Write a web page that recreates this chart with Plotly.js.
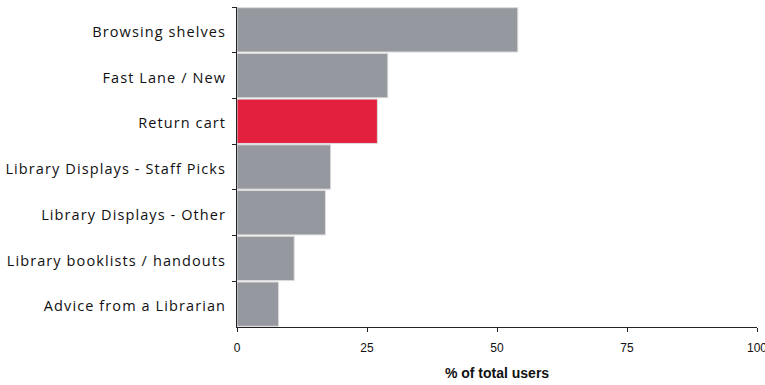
<!DOCTYPE html>
<html>
<head>
<meta charset="utf-8">
<script src="https://cdn.plot.ly/plotly-3.0.1.min.js"></script>
<style>html,body{margin:0;padding:0;background:#fff;}#chart{width:765px;height:385px;}
#chart .ytick text{letter-spacing:1.1px;}</style>
</head>
<body>
<div id="chart"></div>
<script>
const categories = ["Browsing shelves", "Fast Lane / New", "Return cart", "Library Displays - Staff Picks", "Library Displays - Other", "Library booklists / handouts", "Advice from a Librarian"];
const percentUsers = [54, 29, 27, 18, 17, 11, 8];
const highlighted = "Return cart";
const xTicks = [0, 25, 50, 75, 100];

const colors = categories.map(c => c === highlighted ? "#e3203d" : "#96989f");

Plotly.newPlot("chart", [{
  type: "bar",
  orientation: "h",
  y: categories,
  x: percentUsers,
  marker: { color: colors, line: { color: "#dcdcdc", width: 1 } },
  hoverinfo: "none"
}], {
  width: 765, height: 385,
  margin: { l: 237, r: 8, t: 7, b: 58 },
  paper_bgcolor: "#fff", plot_bgcolor: "#fff",
  bargap: 0.03,
  showlegend: false,
  xaxis: {
    range: [0, 100], tickvals: xTicks, ticktext: xTicks.map(String),
    showgrid: false, zeroline: false,
    showline: true, linecolor: "#222", linewidth: 1,
    ticks: "outside", ticklen: 4, tickcolor: "#222",
    ticklabelstandoff: 6, ticklabeloverflow: "allow",
    tickfont: { family: "Liberation Sans, Arial", size: 12, color: "#111" },
    title: { text: "% of total users", font: { family: "Liberation Sans, Arial", size: 14, color: "#111", weight: "bold" }, standoff: 13 }
  },
  yaxis: {
    autorange: "reversed", type: "category",
    showgrid: false, zeroline: false,
    showline: true, linecolor: "#222", linewidth: 1,
    ticks: "outside", ticklen: 4, tickcolor: "#222", tickson: "boundaries",
    ticklabelstandoff: 7, ticklabelshift: -2,
    tickfont: { family: "Open Sans", size: 14.5, color: "#111" }
  }
}, { displayModeBar: false, staticPlot: true });
</script>
</body>
</html>
